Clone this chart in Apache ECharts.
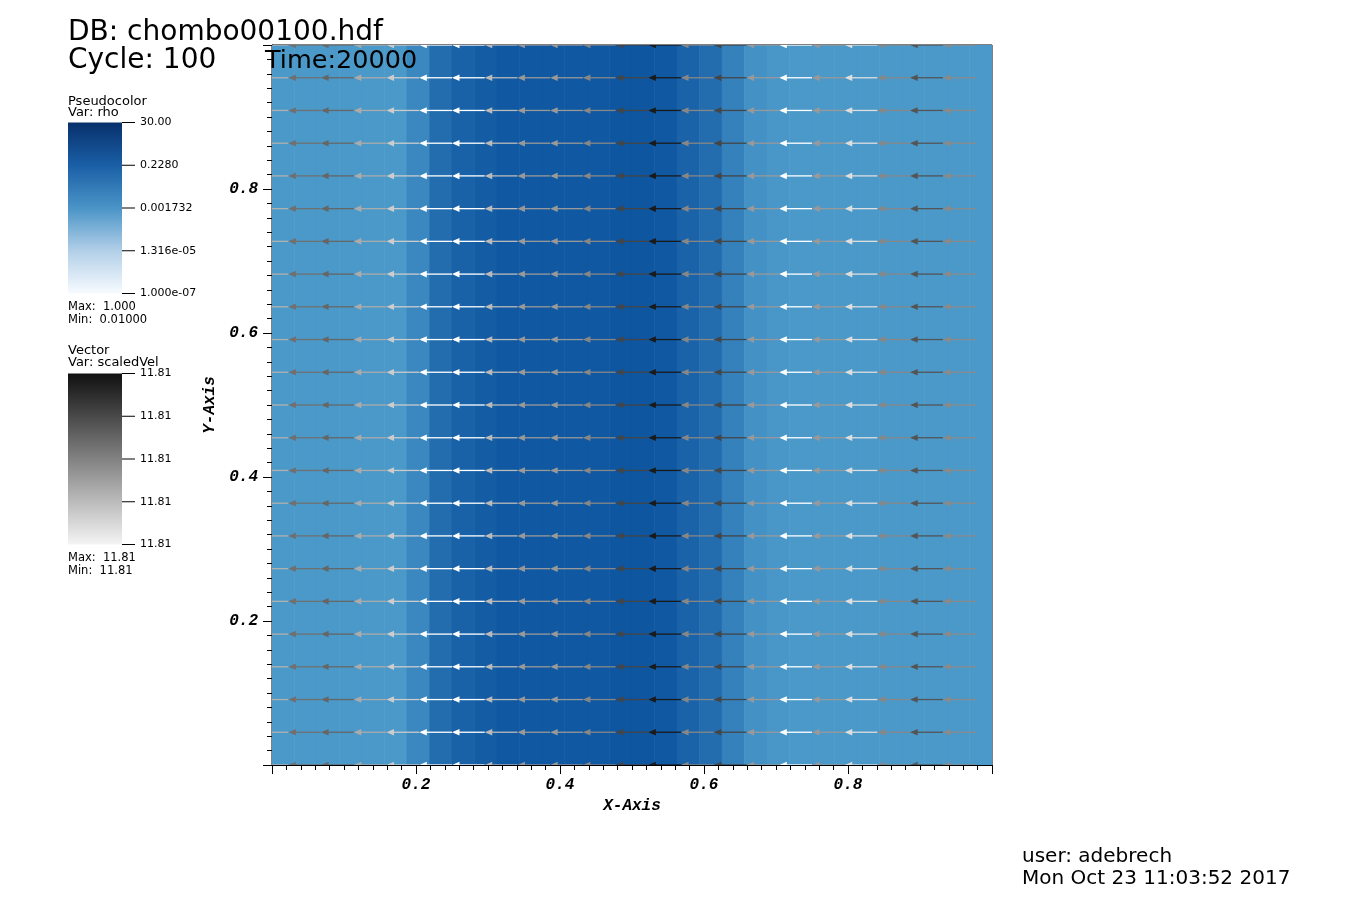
<!DOCTYPE html>
<html><head><meta charset="utf-8">
<script src="https://cdn.jsdelivr.net/npm/echarts@6/dist/echarts.min.js"></script>
<style>html,body{margin:0;padding:0;background:#fff}#c{width:1364px;height:901px}</style>
</head><body><div id="c"></div>
<script>
// ---------------- data ----------------
// density rho per column cell (32 cells across x in [0,1]); uniform in y
const cellRho = [0.0100, 0.0100, 0.0100, 0.0100, 0.0100, 0.0100, 0.0302, 0.174,
                 0.398, 0.631, 0.850, 0.850, 0.850, 0.850, 0.850, 1.000,
                 1.000, 0.871, 0.372, 0.174, 0.0457, 0.0158, 0.0115, 0.0100,
                 0.0100, 0.0100, 0.0100, 0.0100, 0.0100, 0.0100, 0.0100, 0.0100];
// vector glyph centres (x) and rows (y)
const vecX = [0.0000, 0.0455, 0.0909, 0.1364, 0.1818, 0.2273, 0.2727, 0.3182, 0.3636, 0.4091, 0.4545,
              0.5000, 0.5455, 0.5909, 0.6364, 0.6818, 0.7273, 0.7727, 0.8182, 0.8636, 0.9091, 0.9545];
const vecY = [0.0000, 0.0455, 0.0909, 0.1364, 0.1818, 0.2273, 0.2727, 0.3182, 0.3636, 0.4091, 0.4545, 0.5000,
              0.5455, 0.5909, 0.6364, 0.6818, 0.7273, 0.7727, 0.8182, 0.8636, 0.9091, 0.9545, 1.0000];
// x-velocity (all glyphs point to -x) and normalised speed per column (colour)
const vecU = -11.81;
const vecNorm = [0.31, 0.56, 0.60, 0.33, 0.20, 0.00, 0.00, 0.27, 0.40, 0.40, 0.47,
                 0.73, 0.90, 0.47, 0.73, 0.40, 0.00, 0.40, 0.13, 0.47, 0.67, 0.46];
const rhoLegendLabels = ['30.00', '0.2280', '0.001732', '1.316e-05', '1.000e-07'];
const velLegendLabels = ['11.81', '11.81', '11.81', '11.81', '11.81'];
const rhoMax = '1.000', rhoMin = '0.01000';
const velMax = '11.81', velMin = '11.81';
const axisLabels = [0.2, 0.4, 0.6, 0.8];

// ---------------- build ----------------
const nCells = cellRho.length;
const cellData = cellRho.map((r, i) => [i / nCells, (i + 1) / nCells, Math.log10(r)]);
const vecData = [];
vecY.forEach(y => vecX.forEach((x, j) => vecData.push([x, y, vecU, vecNorm[j]])));
const glyphScale = (1 / 22) / Math.abs(vecU); // data length per unit velocity

const chart = echarts.init(document.getElementById('c'), null, {renderer: 'canvas'});
const monoFont = {fontFamily: 'Liberation Mono', fontWeight: 'bold', fontStyle: 'italic', fontSize: 16, color: '#000'};

function legendBar(top, bottom, stops, labels) {
  const els = [{
    type: 'rect', z: 100, shape: {x: 68, y: top, width: 54, height: bottom - top},
    style: {fill: new echarts.graphic.LinearGradient(0, 0, 0, 1, stops)}
  }];
  labels.forEach((t, i) => {
    const y = top + (bottom - top) * i / (labels.length - 1);
    els.push({type: 'line', z: 100, shape: {x1: 122, y1: y, x2: 135, y2: y}, style: {stroke: '#000', lineWidth: 1}});
    els.push({type: 'text', z: 100, x: 140, y: y, style: {text: t, font: '11px "DejaVu Sans"', fill: '#000', verticalAlign: 'middle'}});
  });
  return els;
}
function txt(x, y, t, size) {
  return {type: 'text', z: 100, x: x, y: y, style: {text: t, font: size + 'px "DejaVu Sans"', fill: '#000', verticalAlign: 'middle'}};
}

const graphics = [
  txt(68, 33, 'DB: chombo00100.hdf', 28),
  txt(68, 61, 'Cycle: 100', 28),
  txt(265, 61, 'Time:20000', 25.5),
  txt(68, 102, 'Pseudocolor', 13),
  txt(68, 113, 'Var: rho', 13),
  ...legendBar(122.5, 293.5, [
    {offset: 0, color: '#08306b'}, {offset: 0.25, color: '#1a5fa6'},
    {offset: 0.5, color: '#4a94c7'}, {offset: 0.75, color: '#b2cfe8'}, {offset: 1, color: '#f7fbff'}], rhoLegendLabels),
  txt(68, 307.5, 'Max:  ' + rhoMax, 11.5),
  txt(68, 320, 'Min:  ' + rhoMin, 11.5),
  txt(68, 351, 'Vector', 13),
  txt(68, 363, 'Var: scaledVel', 13),
  ...legendBar(373.5, 544.5, [{offset: 0, color: '#101010'}, {offset: 1, color: '#f4f4f4'}], velLegendLabels),
  txt(68, 558, 'Max:  ' + velMax, 11.5),
  txt(68, 571, 'Min:  ' + velMin, 11.5),
  txt(1022, 857, 'user: adebrech', 20),
  txt(1022, 879, 'Mon Oct 23 11:03:52 2017', 20)
];

function fmt(v) {
  return axisLabels.some(a => Math.abs(a - v) < 1e-9) ? v.toFixed(1) : '';
}

const option = {
  animation: false,
  backgroundColor: '#fff',
  grid: {left: 272, top: 45, width: 720, height: 720, show: true, borderColor: '#000', borderWidth: 1, backgroundColor: 'transparent'},
  xAxis: {
    type: 'value', min: 0, max: 1, interval: 0.2,
    name: 'X-Axis', nameLocation: 'middle', nameGap: 31, nameTextStyle: monoFont,
    axisLine: {show: true, onZero: false, lineStyle: {color: '#000', width: 1}},
    axisTick: {show: true, inside: false, length: 9, lineStyle: {color: '#000'}},
    minorTick: {show: true, splitNumber: 10, length: 5, lineStyle: {color: '#000'}},
    axisLabel: Object.assign({margin: 12, formatter: fmt}, monoFont),
    splitLine: {show: false}
  },
  yAxis: {
    type: 'value', min: 0, max: 1, interval: 0.2,
    name: 'Y-Axis', nameLocation: 'middle', nameGap: 53, nameTextStyle: monoFont,
    axisLine: {show: true, onZero: false, lineStyle: {color: '#000', width: 1}},
    axisTick: {show: true, inside: false, length: 9, lineStyle: {color: '#000'}},
    minorTick: {show: true, splitNumber: 10, length: 5, lineStyle: {color: '#000'}},
    axisLabel: Object.assign({margin: 14, formatter: fmt}, monoFont),
    splitLine: {show: false}
  },
  visualMap: [
    {type: 'continuous', show: false, seriesIndex: 0, dimension: 2, min: -2, max: 0,
     inRange: {color: ['#4b99c9', '#2a74b4', '#0e56a0']}},
    {type: 'continuous', show: false, seriesIndex: 1, dimension: 3, min: 0, max: 1,
     inRange: {color: ['#ffffff', '#000000']}}
  ],
  series: [
    {
      type: 'custom', data: cellData, clip: true, silent: true,
      encode: {x: [0, 1]},
      renderItem: function (params, api) {
        const p0 = api.coord([api.value(0), 1]);
        const p1 = api.coord([api.value(1), 0]);
        const c = api.visual('color');
        return {type: 'rect', shape: {x: p0[0], y: p0[1], width: p1[0] - p0[0], height: p1[1] - p0[1]},
                style: {fill: c, stroke: c, lineWidth: 0.6}};
      }
    },
    {
      type: 'custom', data: vecData, clip: true, silent: true, z: 3,
      encode: {x: 0, y: 1},
      renderItem: function (params, api) {
        const x = api.value(0), y = api.value(1), u = api.value(2);
        const half = u * glyphScale / 2;
        const tip = api.coord([x + half, y]);
        const tail = api.coord([x - half, y]);
        const c = api.visual('color');
        const dir = Math.sign(tip[0] - tail[0]) || -1;
        const hl = 7.5, hw = 3.3;
        return {type: 'group', children: [
          {type: 'line', shape: {x1: tail[0], y1: tail[1], x2: tip[0] - dir * 2, y2: tip[1]}, style: {stroke: c, lineWidth: 1.3}},
          {type: 'polygon', shape: {points: [[tip[0], tip[1]], [tip[0] - dir * hl, tip[1] - hw], [tip[0] - dir * hl, tip[1] + hw]]},
           style: {fill: c}}
        ]};
      }
    }
  ],
  graphic: graphics
};
chart.setOption(option);
</script>
</body></html>
